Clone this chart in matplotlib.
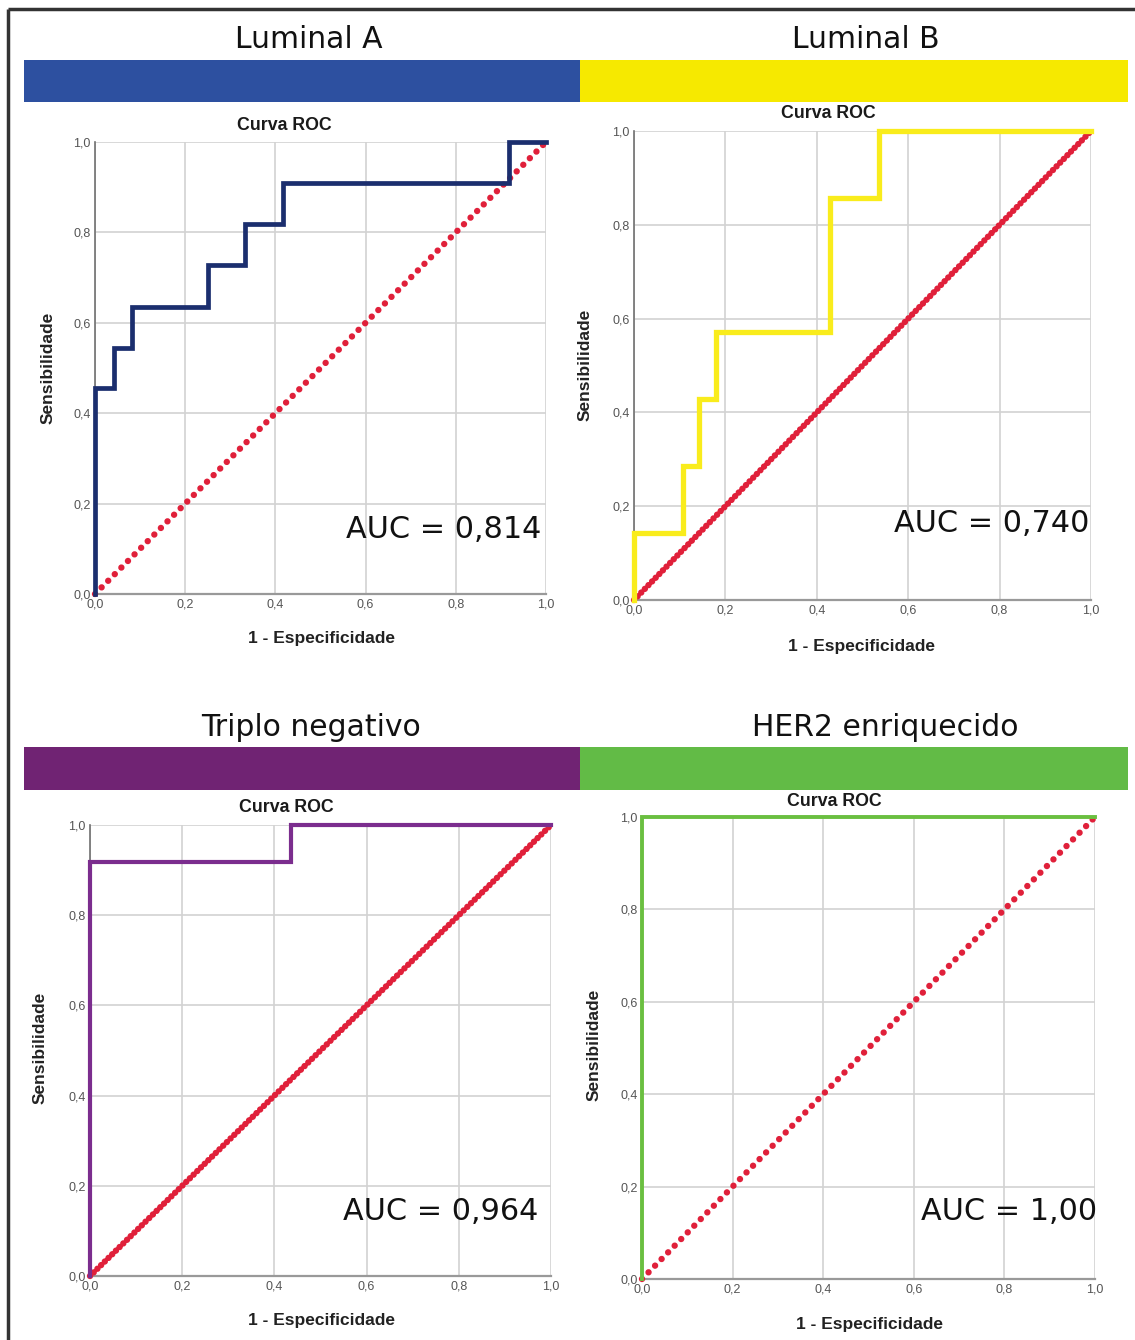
import matplotlib.pyplot as plt
import matplotlib.patches as patches

# ROC curve points (1 - specificity, sensitivity) for each subtype
lum_a_fpr = [0.0, 0.0, 0.042, 0.083, 0.25, 0.333, 0.417, 0.917, 1.0]
lum_a_tpr = [0.0, 0.455, 0.545, 0.636, 0.727, 0.818, 0.909, 1.0, 1.0]

lum_b_fpr = [0.0, 0.0, 0.107, 0.143, 0.179, 0.429, 0.536, 1.0]
lum_b_tpr = [0.0, 0.143, 0.286, 0.429, 0.571, 0.857, 1.0, 1.0]

tn_fpr = [0.0, 0.0, 0.436, 1.0]
tn_tpr = [0.0, 0.917, 1.0, 1.0]

her2_fpr = [0.0, 0.0, 1.0]
her2_tpr = [0.0, 1.0, 1.0]

subtypes = ["Luminal A", "Luminal B", "Triplo negativo", "HER2 enriquecido"]
auc_labels = ["AUC = 0,814", "AUC = 0,740", "AUC = 0,964", "AUC = 1,00"]
tick_vals = [0.0, 0.2, 0.4, 0.6, 0.8, 1.0]
tick_labels = ["0,0", "0,2", "0,4", "0,6", "0,8", "1,0"]

W, H = 1135, 1340
fig = plt.figure(figsize=(W / 100, H / 100), dpi=100)

# full-figure layer in pixel coordinates for frame, banners and headings
bg = fig.add_axes([0, 0, 1, 1])
bg.set_xlim(0, W)
bg.set_ylim(H, 0)
bg.axis('off')

bg.plot([8, W], [9, 9], color='#333333', lw=2.5, solid_capstyle='butt')
bg.plot([8, 8], [9, H], color='#333333', lw=2.5, solid_capstyle='butt')

banners = [
    # x, y, w, h, colour
    (24, 60, 556, 42, '#2d50a0'),
    (580, 60, 548, 42, '#f6e900'),
    (24, 747, 556, 43, '#702373'),
    (580, 747, 548, 43, '#62bb46'),
]
for x, y, w, h, c in banners:
    bg.add_patch(patches.Rectangle((x, y), w, h, facecolor=c, edgecolor='none'))

heading_pos = [(309, 39), (866, 39), (311, 727), (885, 727)]
for (hx, hy), name in zip(heading_pos, subtypes):
    bg.text(hx, hy, name, ha='center', va='center', fontsize=21.5,
            family='DejaVu Sans', color='#111111')


def px_axes(x0, x1, ytop, ybot):
    return fig.add_axes([x0 / W, 1 - ybot / H, (x1 - x0) / W, (ybot - ytop) / H])


panels = [
    dict(box=(95, 546, 142, 594), fpr=lum_a_fpr, tpr=lum_a_tpr, color='#1b2e6e', lw=3.4,
         title=(284, 126), ylab=(48, 368), xlab=(321, 639), auc=(541, 530), dots=(0.01, 1.45)),
    dict(box=(634, 1091, 131, 600), fpr=lum_b_fpr, tpr=lum_b_tpr, color='#f9ec1c', lw=3.8,
         title=(828, 114), ylab=(585, 365), xlab=(862, 646), auc=(1089, 524), dots=(0.01, 0.8)),
    dict(box=(90, 551, 825, 1276), fpr=tn_fpr, tpr=tn_tpr, color='#7b2d8e', lw=3.0,
         title=(286, 808), ylab=(40, 1048), xlab=(321, 1320), auc=(538, 1211), dots=(0.01, 0.8)),
    dict(box=(642, 1095, 817, 1279), fpr=her2_fpr, tpr=her2_tpr, color='#6abf40', lw=2.8,
         title=(834, 801), ylab=(594, 1045), xlab=(869, 1325), auc=(1097, 1211), dots=(0.01, 1.45)),
]

for p, auc in zip(panels, auc_labels):
    ax = px_axes(*p['box'])
    ax.set_xlim(0, 1)
    ax.set_ylim(0, 1)
    ax.set_axisbelow(True)

    ax.plot([0, 1], [0, 1], color='#e0203a', lw=4.6, linestyle=(0, p['dots']),
            dash_capstyle='round', clip_on=False, zorder=3)
    ax.plot(p['fpr'], p['tpr'], drawstyle='steps-post', color=p['color'], lw=p['lw'],
            solid_joinstyle='miter', clip_on=False, zorder=4)

    ax.set_xticks(tick_vals)
    ax.set_yticks(tick_vals)
    ax.set_xticklabels(tick_labels)
    ax.set_yticklabels(tick_labels)
    ax.tick_params(length=0, pad=3, labelsize=9, labelcolor='#555555')
    for lab in ax.get_xticklabels() + ax.get_yticklabels():
        lab.set_family('Liberation Sans')
    ax.grid(True, color='#d2d2d2', lw=1.2)

    ax.spines['top'].set_visible(False)
    ax.spines['right'].set_visible(False)
    ax.spines['left'].set_color('#707070')
    ax.spines['left'].set_linewidth(1.2)
    ax.spines['bottom'].set_color('#999999')
    ax.spines['bottom'].set_linewidth(1.6)

    tx, ty = p['title']
    bg.text(tx, ty, "Curva ROC", ha='center', va='center', fontsize=12.8,
            fontweight='bold', family='Liberation Sans', color='#1a1a1a')
    yx, yy = p['ylab']
    bg.text(yx, yy, "Sensibilidade", ha='center', va='center', rotation=90, fontsize=12.5,
            fontweight='bold', family='Liberation Sans', color='#222222')
    xx, xy = p['xlab']
    bg.text(xx, xy, "1 - Especificidade", ha='center', va='center', fontsize=12.5,
            fontweight='bold', family='Liberation Sans', color='#222222')
    # AUC note sits inside the plot area, so it belongs to the panel axes
    ax_, ay_ = p['auc']
    ax.text(ax_, ay_, auc, transform=bg.transData, ha='right', va='center', fontsize=21.8,
            family='DejaVu Sans', color='#111111', zorder=6)

fig.savefig('out.png', dpi=100)
